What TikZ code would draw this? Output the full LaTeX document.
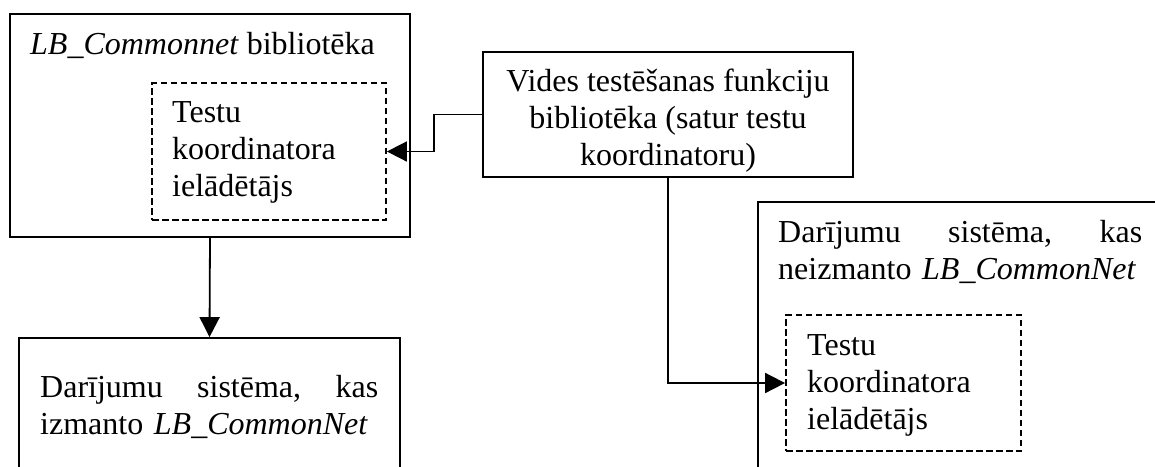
\documentclass[tikz,border=0pt]{standalone}
\usepackage{fontspec}
\setmainfont{Liberation Serif}
\usetikzlibrary{arrows.meta}
\begin{document}
\begin{tikzpicture}[x=1pt,y=-1pt,
  box/.style={draw, line width=1.8pt, inner sep=0pt},
  dbox/.style={draw, line width=1.8pt, inner sep=0pt, dash pattern=on 6.5pt off 3.5pt},
  txt/.style={inner sep=0pt, font=\fontsize{32}{37}\selectfont},
  conn/.style={line width=1.8pt, -{Triangle[length=20pt,width=20pt]}}]
\useasboundingbox (0,0) rectangle (1155,466);
\clip (0,0) rectangle (1155,466);
\fill[white] (0,0) rectangle (1155,466);
% boxes
\node[box, minimum width=400pt, minimum height=223pt] (A) at (210,125.5) {};
\node[dbox, minimum width=234pt, minimum height=137pt] (dA) at (269,151.5) {};
\node[box, minimum width=370pt, minimum height=125pt] (V) at (668,114.5) {};
\node[box, minimum width=381pt, minimum height=182pt] (C) at (209.5,429) {};
\node[box, minimum width=442pt, minimum height=318pt] (D) at (979,361) {};
\node[dbox, minimum width=235pt, minimum height=136pt] (dD) at (903.5,383) {};
% texts
\node[txt, anchor=base west] (tA) at (30,54) {\textit{LB\_Commonnet} bibliotēka};
\node[txt, anchor=north west, align=left] (tdA) at (172,96.1) {\strut Testu\\koordinatora\\ielādētājs};
\node[txt, anchor=north, align=center] (tV) at (668,65.5) {\strut Vides testēšanas funkciju\\bibliotēka (satur testu\\koordinatoru)};
\node[txt, anchor=north west, text width=338pt, align=left] (tC) at (40,371.1) {\strut Darījumu\hfill sistēma,\hfill kas\\izmanto \textit{LB\_CommonNet}};
\node[txt, anchor=north west, text width=364pt, align=left] (tD) at (778,216.1) {\strut Darījumu\hfill sistēma,\hfill kas\\neizmanto \textit{LB\_CommonNet}};
\node[txt, anchor=north west, align=left] (tdD) at (807,329.1) {\strut Testu\\koordinatora\\ielādētājs};
% connectors
\coordinate (bend) at (434,0);
\draw[conn] (A.south) -- (C.north);
\draw[conn] (V.west) -- (V.west -| bend) |- (dA.east);
\draw[conn] (V.south) |- (dD.west);
\end{tikzpicture}
\end{document}
